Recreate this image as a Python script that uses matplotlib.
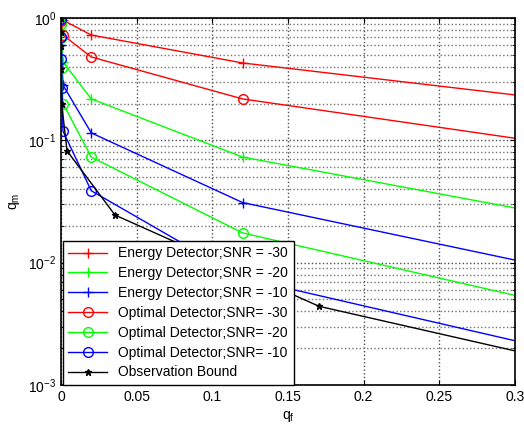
import matplotlib
matplotlib.use("Agg")
import matplotlib.pyplot as plt
import numpy as np

plt.rcParams['font.family'] = ['Liberation Sans', 'DejaVu Sans']
plt.rcParams['mathtext.fontset'] = 'custom'
plt.rcParams['mathtext.rm'] = 'Liberation Sans'
plt.rcParams['mathtext.it'] = 'Liberation Sans:italic'

# energy detector curves (q_f, q_m)
ed30_qf = [0, 0.0013, 0.02, 0.12, 0.3]
ed30_qm = [1.0, 0.96, 0.726, 0.429, 0.235]
ed20_qf = [0, 0.0002, 0.0013, 0.02, 0.12, 0.3]
ed20_qm = [1.0, 0.80, 0.437, 0.218, 0.073, 0.028]
ed10_qf = [0, 0.0002, 0.0013, 0.02, 0.12, 0.3]
ed10_qm = [1.0, 0.60, 0.283, 0.115, 0.031, 0.0105]

# optimal detector curves
od30_qf = [0, 0.0013, 0.02, 0.12, 0.3]
od30_qm = [0.95, 0.726, 0.48, 0.218, 0.104]
od20_qf = [0, 0.0001, 0.0004, 0.0013, 0.02, 0.12, 0.3]
od20_qm = [0.90, 0.686, 0.39, 0.20, 0.073, 0.0175, 0.0054]
od10_qf = [0, 0.0001, 0.0003, 0.0006, 0.0013, 0.02, 0.12, 0.3]
od10_qm = [0.98, 0.70, 0.46, 0.27, 0.119, 0.0387, 0.0075, 0.0023]

# observation bound
ob_qf = [0, 0.00005, 0.0001, 0.0002, 0.0004, 0.004, 0.0357, 0.1705, 0.3]
ob_qm = [1.0, 0.77, 0.59, 0.38, 0.20, 0.082, 0.0245, 0.0044, 0.0019]

fig = plt.figure(figsize=(5.24, 4.25), dpi=100)
ax = fig.add_axes([61/524, 1-385/425, 454/524, 367/425])

ms = 7
me = slice(0, -1)  # last point sits on the right edge, no marker there
ax.semilogy(ed30_qf, ed30_qm, '-+', color='r', ms=ms, lw=1, markevery=me, label='Energy Detector;SNR = -30')
ax.semilogy(ed20_qf, ed20_qm, '-+', color='#00ff00', ms=ms, lw=1, markevery=me, label='Energy Detector;SNR = -20')
ax.semilogy(ed10_qf, ed10_qm, '-+', color='b', ms=ms, lw=1, markevery=me, label='Energy Detector;SNR = -10')
ax.semilogy(od30_qf, od30_qm, '-o', color='r', mfc='none', ms=ms, lw=1, markevery=me, label='Optimal Detector;SNR= -30')
ax.semilogy(od20_qf, od20_qm, '-o', color='#00ff00', mfc='none', ms=ms, lw=1, markevery=me, label='Optimal Detector;SNR= -20')
ax.semilogy(od10_qf, od10_qm, '-o', color='b', mfc='none', ms=ms, lw=1, markevery=me, label='Optimal Detector;SNR= -10')
ax.semilogy(ob_qf, ob_qm, '-*', color='k', ms=5, lw=1, markevery=me, label='Observation Bound')

ax.set_xlim(0, 0.3)
ax.set_ylim(1e-3, 1)
ax.set_xticks([0, 0.05, 0.1, 0.15, 0.2, 0.25, 0.3])
ax.set_xticklabels(['0', '0.05', '0.1', '0.15', '0.2', '0.25', '0.3'])

ax.grid(True, which='major', color='0.3', linestyle=':', linewidth=1.0)
ax.grid(True, which='minor', axis='y', color='0.45', linestyle=':', linewidth=1.0)
ax.tick_params(which='both', direction='in', top=True, right=True, labelsize=10)
for s in ax.spines.values():
    s.set_linewidth(1.2)

ax.set_xlabel('$\\mathrm{q_f}$', fontsize=10)
ax.set_ylabel('$\\mathrm{q_m}$', fontsize=10)

leg = ax.legend(loc='lower left', bbox_to_anchor=(0.004, 0.0), fontsize=10, frameon=True,
                fancybox=False, edgecolor='k', borderaxespad=0.0, handlelength=2.8,
                labelspacing=0.42, borderpad=0.4)
leg.get_frame().set_linewidth(1.0)
leg.get_frame().set_alpha(1)

fig.savefig('out.png', dpi=100)
